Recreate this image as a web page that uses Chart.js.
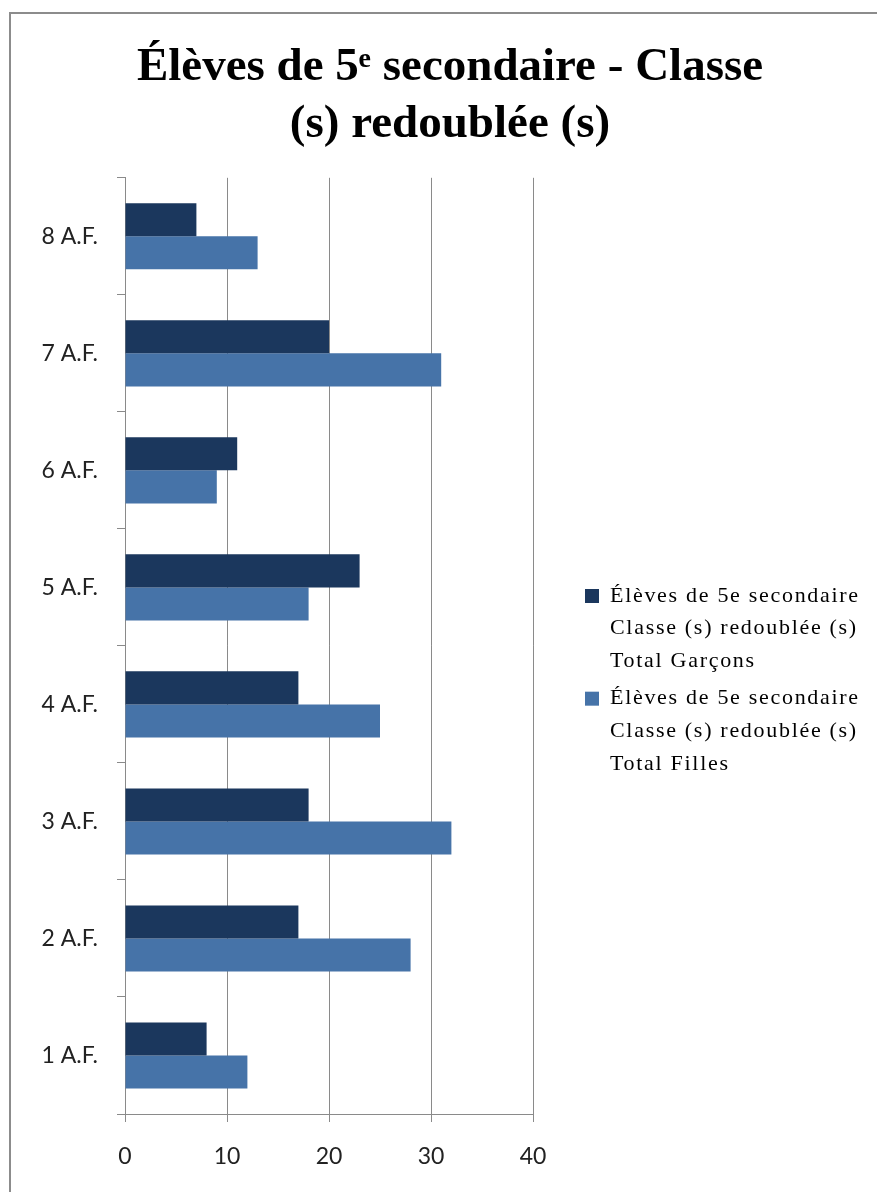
<!DOCTYPE html>
<html>
<head>
<meta charset="utf-8">
<script src="https://cdn.jsdelivr.net/npm/chart.js@4"></script>
<style>
    html, body { margin: 0; padding: 0; background: #fff; overflow: hidden; }
    #frame { position: absolute; left: 9px; top: 12px; width: 900px; height: 1200px; border: 2px solid #8c8c8c; background: #fff; }
    #wrap { position: absolute; left: 0; top: 0; width: 878px; height: 1176px; }
</style>
</head>
<body>
<div id="frame"><div id="wrap"><canvas id="redoublants"></canvas></div></div>
<script>
var categories = ["8 A.F.", "7 A.F.", "6 A.F.", "5 A.F.", "4 A.F.", "3 A.F.", "2 A.F.", "1 A.F."];
var garcons = [7, 20, 11, 23, 17, 18, 17, 8];
var filles = [13, 31, 9, 18, 25, 32, 28, 12];
var xTicks = [0, 10, 20, 30, 40];
var titleLines = ["Élèves de 5ᵉ secondaire - Classe", "(s) redoublée (s)"];
var labelGarcons = ["Élèves de 5e secondaire", "Classe (s) redoublée (s)", "Total Garçons"];
var labelFilles = ["Élèves de 5e secondaire", "Classe (s) redoublée (s)", "Total Filles"];

var dark = "#1b375d";
var light = "#4673a8";
var gridColor = "#8a8a8a";

// legend: fixed width, moved a bit right and down like the Excel one
var legendPlacer = {
    id: 'legendPlacer',
    beforeLayout: function (chart) {
        var lg = chart.legend;
        if (!lg || lg._patched) return;
        var fit = lg.fit, draw = lg.draw;
        lg.fit = function () { fit.call(this); this.width = 356; };
        lg.draw = function (area) {
            this.ctx.letterSpacing = '1.7px';
            draw.call(this, area);
            this.ctx.letterSpacing = '0px';
        };
        lg._patched = true;
    },
    beforeDraw: function (chart) {
        var lg = chart.legend;
        lg.left = chart.chartArea.right + 47;
        lg.top = 566;
    }
};

var barData = {
    labels: categories,
    datasets: [
        {
            label: labelGarcons.join(" "),
            lines: labelGarcons,
            backgroundColor: dark,
            borderWidth: 0,
            categoryPercentage: 0.565,
            barPercentage: 1.0,
            data: garcons
        },
        {
            label: labelFilles.join(" "),
            lines: labelFilles,
            backgroundColor: light,
            borderWidth: 0,
            categoryPercentage: 0.565,
            barPercentage: 1.0,
            data: filles
        }
    ]
};

var barOptions = {
    indexAxis: 'y',
    responsive: true,
    maintainAspectRatio: false,
    animation: false,
    layout: { padding: 0 },
    scales: {
        x: {
            min: 0,
            max: 40,
            afterBuildTicks: function (scale) {
                scale.ticks = xTicks.map(function (v) { return { value: v }; });
            },
            afterFit: function (scale) { scale.height = 76; },
            grid: { color: gridColor, lineWidth: 1, drawTicks: true, tickLength: 8, tickColor: gridColor },
            border: { color: gridColor, width: 1 },
            ticks: { color: "#222", padding: 21, font: { family: "Lato", size: 23 } }
        },
        y: {
            afterFit: function (scale) { scale.width = 114; },
            grid: { drawOnChartArea: false, drawTicks: true, tickLength: 8, tickColor: gridColor, offset: true },
            border: { color: gridColor, width: 1 },
            ticks: { color: "#222", padding: 19, font: { family: "Lato", size: 23 } }
        }
    },
    plugins: {
        title: {
            display: true,
            text: titleLines,
            color: "#000",
            font: { family: "Liberation Serif", size: 47, weight: "bold", lineHeight: 1.2 },
            padding: { top: 26, bottom: 25 }
        },
        legend: {
            position: 'right',
            align: 'start',
            labels: {
                color: "#000",
                boxWidth: 14,
                boxHeight: 14,
                padding: 5,
                font: { family: "Liberation Serif", size: 22, lineHeight: 1.48 },
                generateLabels: function (chart) {
                    return chart.data.datasets.map(function (ds, i) {
                        return {
                            text: ds.lines,
                            fillStyle: ds.backgroundColor,
                            strokeStyle: ds.backgroundColor,
                            lineWidth: 0,
                            hidden: false,
                            datasetIndex: i
                        };
                    });
                }
            }
        },
        tooltip: { enabled: false }
    }
};

var ctx = document.getElementById("redoublants").getContext("2d");
new Chart(ctx, { type: 'bar', data: barData, options: barOptions, plugins: [legendPlacer] });
</script>
</body>
</html>
